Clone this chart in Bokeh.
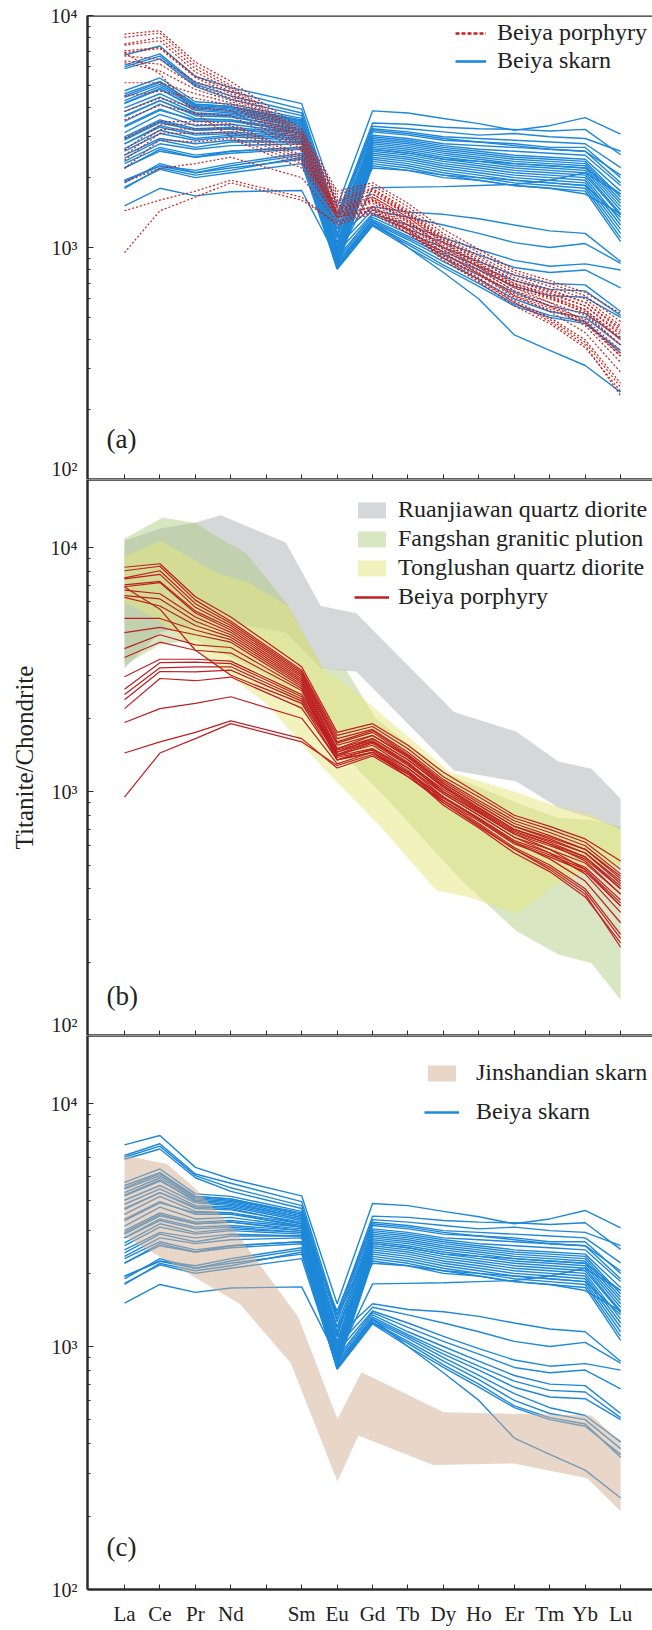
import numpy as np
from bokeh.plotting import figure
from bokeh.models import (FixedTicker, CustomJSTickFormatter, Span, Label, Legend,
                          LegendItem, Range1d)
from bokeh.layouts import column
from bokeh.embed import file_html
from bokeh.resources import INLINE

# ---------------- data ----------------
ELEMENTS = ["La", "Ce", "Pr", "Nd", "", "Sm", "Eu", "Gd", "Tb", "Dy", "Ho", "Er", "Tm", "Yb", "Lu"]
REE_X = [0, 1, 2, 3, 5, 6, 7, 8, 9, 10, 11, 12, 13, 14]   # Pm (4) not analysed

# Beiya skarn titanite (chondrite normalised) La..Lu without Pm
SKARN = [
    [6760, 7390, 5460, 4890, 4170, 1500, 3880, 3800, 3600, 3420, 3200, 3350, 3630, 3080],
    [6110, 6830, 5130, 4700, 3950, 1350, 3440, 3400, 3300, 3250, 3230, 3180, 3230, 2510],
    [6010, 6680, 5050, 4500, 3800, 1300, 3330, 3250, 3150, 3050, 3100, 3000, 2950, 2600],
    [5900, 6500, 4950, 4350, 3700, 1260, 3250, 3150, 3000, 2950, 2900, 2850, 2800, 2210],
    [4740, 5380, 4250, 4150, 3600, 1200, 3150, 3050, 2900, 2850, 2800, 2700, 2700, 2000],
    [4600, 5200, 4150, 4050, 3550, 1150, 3050, 2950, 2800, 2750, 2700, 2650, 2600, 2050],
    [4440, 5050, 4100, 4000, 3500, 1100, 3000, 2900, 2750, 2650, 2600, 2550, 2500, 1850],
    [4300, 4950, 4050, 3950, 3450, 1120, 2950, 2850, 2700, 2600, 2500, 2450, 2400, 1750],
    [4170, 4800, 4000, 3900, 3400, 1050, 2900, 2800, 2650, 2550, 2450, 2400, 2350, 1650],
    [4000, 4600, 3900, 3800, 3350, 1000, 2850, 2750, 2600, 2500, 2400, 2350, 2300, 1600],
    [3850, 4450, 3800, 3750, 3300, 1030, 2800, 2700, 2550, 2450, 2350, 2300, 2250, 1550],
    [3670, 4300, 3700, 3650, 3250, 980, 2750, 2650, 2500, 2400, 2300, 2250, 2200, 1500],
    [3500, 4150, 3600, 3550, 3200, 960, 2700, 2600, 2450, 2350, 2250, 2200, 2150, 1450],
    [3340, 3950, 3500, 3500, 3150, 940, 2650, 2550, 2400, 2300, 2200, 2150, 2100, 1400],
    [3130, 3750, 3350, 3400, 3100, 920, 2600, 2500, 2350, 2250, 2150, 2100, 2050, 1380],
    [2940, 3500, 3200, 3250, 3050, 900, 2550, 2450, 2300, 2200, 2100, 2050, 2000, 1300],
    [2800, 3350, 3100, 3150, 3000, 880, 2500, 2400, 2250, 2150, 2050, 2000, 1950, 1250],
    [2670, 3200, 2950, 3050, 2950, 870, 2450, 2350, 2200, 2100, 2000, 1950, 1900, 1200],
    [2430, 2900, 2700, 2850, 2850, 850, 2400, 2300, 2150, 2050, 1950, 1900, 1850, 1150],
    [2210, 2600, 2450, 2600, 2700, 840, 2350, 2250, 2100, 2000, 1900, 1850, 1800, 1100],
    [1940, 2240, 2100, 2250, 2500, 830, 2300, 2200, 2050, 1950, 1850, 1800, 1750, 1060],
    [1820, 2170, 2000, 2100, 2300, 820, 2250, 2150, 2000, 1950, 1850, 1800, 1700, 1400],
    [1510, 1800, 1670, 1740, 1760, 900, 1810, 1820, 1830, 1850, 1870, 1950, 2100, 1700],
    [3000, 3550, 3250, 3300, 3100, 1400, 3200, 3100, 2950, 2850, 2750, 2650, 2600, 1900],
    [4200, 4850, 3950, 3850, 3400, 1350, 2650, 2550, 2400, 2350, 2300, 2250, 2200, 1700],
    [2600, 3100, 2900, 3000, 2900, 1200, 2200, 2150, 2050, 2000, 1950, 1900, 1850, 1350],
    [4500, 5150, 4150, 4050, 3500, 1100, 1500, 1420, 1390, 1330, 1250, 1180, 1150, 870],
    [3700, 4300, 3750, 3700, 3200, 1000, 1450, 1350, 1250, 1150, 1050, 1000, 1040, 855],
    [3300, 3900, 3550, 3550, 3100, 950, 1400, 1250, 1100, 980, 880, 830, 850, 800],
    [2900, 3450, 3200, 3250, 3000, 900, 1380, 1200, 1050, 930, 820, 780, 800, 670],
    [2800, 3300, 3050, 3100, 2950, 880, 1350, 1150, 1000, 870, 760, 700, 690, 530],
    [2500, 2950, 2800, 2900, 2850, 860, 1320, 1120, 960, 830, 720, 660, 650, 510],
    [2350, 2800, 2650, 2750, 2800, 850, 1300, 1100, 930, 800, 680, 620, 610, 500],
    [2300, 2700, 2500, 2600, 2700, 830, 1280, 1080, 900, 760, 640, 560, 520, 405],
    [2200, 2650, 2450, 2550, 2650, 820, 1260, 1050, 870, 730, 600, 530, 500, 380],
    [1950, 2250, 2150, 2300, 2550, 810, 1250, 1030, 840, 700, 570, 510, 480, 350],
    [1800, 2200, 2050, 2150, 2450, 805, 1240, 1000, 820, 680, 560, 500, 470, 360],
    [1900, 2300, 2100, 2200, 2400, 830, 1300, 1000, 780, 600, 420, 360, 310, 238],
]

# Beiya porphyry titanite
PORPHYRY = [
    [8320, 8600, 6300, 5200, 3250, 1750, 1900, 1550, 1200, 980, 800, 720, 640, 520],
    [8050, 8400, 6100, 5000, 3150, 1700, 1850, 1500, 1150, 950, 780, 700, 620, 480],
    [7530, 8050, 5900, 4900, 3100, 1650, 1800, 1450, 1120, 920, 760, 680, 600, 460],
    [7450, 7780, 5700, 4800, 3050, 1600, 1780, 1420, 1100, 900, 740, 660, 580, 440],
    [7040, 7280, 5500, 4700, 3000, 1580, 1750, 1400, 1080, 880, 720, 640, 560, 420],
    [6920, 7200, 5400, 4600, 2950, 1550, 1700, 1380, 1060, 860, 700, 620, 540, 400],
    [6700, 6480, 5200, 4500, 2900, 1500, 1650, 1350, 1040, 840, 690, 610, 520, 380],
    [6370, 6170, 5000, 4400, 2850, 1480, 1620, 1320, 1000, 820, 670, 580, 480, 340],
    [6260, 5770, 4800, 4300, 2800, 1450, 1600, 1300, 980, 800, 650, 560, 460, 320],
    [5130, 5130, 4600, 4200, 2750, 1420, 1550, 1250, 950, 770, 620, 530, 430, 290],
    [4490, 4720, 4400, 4100, 2700, 1400, 1500, 1220, 920, 740, 590, 500, 400, 260],
    [6900, 5600, 3800, 3000, 2300, 1350, 1450, 1150, 900, 720, 580, 480, 380, 230],
    [3860, 4400, 4000, 3900, 2650, 1380, 1480, 1200, 900, 730, 580, 490, 390, 250],
    [3550, 4100, 3800, 3700, 2600, 1350, 1450, 1180, 880, 710, 560, 470, 370, 240],
    [2960, 3490, 3490, 3430, 2500, 1500, 1700, 1400, 1080, 880, 720, 650, 580, 450],
    [2630, 3380, 3400, 3350, 2450, 1450, 1650, 1350, 1050, 850, 700, 630, 560, 430],
    [2500, 3220, 3250, 3250, 2400, 1420, 1600, 1300, 1020, 830, 680, 610, 540, 410],
    [2380, 3110, 3100, 3150, 2350, 1400, 1580, 1280, 1000, 820, 670, 600, 530, 400],
    [2190, 2910, 2850, 2950, 2200, 1350, 1500, 1250, 980, 800, 650, 580, 510, 380],
    [1920, 2190, 2300, 2450, 2000, 1300, 1450, 1200, 950, 780, 630, 560, 490, 360],
    [1440, 1600, 1750, 1950, 1650, 1250, 1400, 1150, 920, 760, 610, 540, 470, 340],
    [950, 1440, 1650, 1900, 1600, 1280, 1420, 1180, 940, 770, 620, 550, 480, 350],
]

# reference fields (polygon outlines: upper edge then lower edge)
RUANJIAWAN_X = [0, 1.02, 2.0, 2.72, 4.55, 5.54, 6.54, 9.3, 11.06, 12.24, 13.18, 14,
                14, 13.18, 12.24, 11.06, 9.3, 6.54, 5.54, 4.55, 2.7, 1.0, 0]
RUANJIAWAN_Y = [10700, 12000, 12700, 13600, 10500, 5770, 5390, 2120, 1760, 1330, 1240, 935,
                700, 780, 860, 1100, 1220, 3110, 3200, 4500, 5000, 4500, 3200]
FANGSHAN_X = [0, 1.08, 2.02, 2.49, 3.43, 4.6, 5.6, 6.25, 7.07, 9.0, 11.06, 12.24, 13.18, 14,
              14, 13.18, 12.24, 11.06, 9.5, 7.5, 5.5, 4.0, 2.0, 1.0, 0]
FANGSHAN_Y = [10900, 13300, 12600, 11400, 9500, 5850, 3200, 3170, 2010, 1200, 900, 780, 765, 716,
              140, 198, 215, 268, 434, 900, 1800, 3000, 4200, 4000, 3300]
TONGLUSHAN_X = [0, 1.02, 2.6, 3.5, 4.6, 5.6, 6.6, 9.2, 11.0, 12.2, 13.2, 14,
                14, 13.2, 12.2, 11.1, 9.7, 8.8, 7.3, 5.5, 4.0, 2.0, 1.0, 0]
TONGLUSHAN_Y = [9200, 10700, 7900, 7200, 5800, 3200, 2500, 1200, 1000, 870, 800, 700,
                500, 480, 420, 316, 370, 393, 700, 1300, 2300, 3800, 5000, 6000]
JINSHANDIAN_X = [0, 1.2, 2.02, 3.08, 4.9, 6.01, 6.69, 9.01, 13.18, 14,
                 14, 13.06, 10.98, 8.71, 6.6, 6.01, 4.69, 3.25, 0]
JINSHANDIAN_Y = [6110, 5640, 4440, 3040, 1325, 503, 784, 536, 520, 405,
                 210, 287, 330, 325, 430, 278, 855, 1500, 2850]

# ---------------- styling ----------------
FONT = "Liberation Serif"
TXT = "#222222"
AX = "#2b2b2b"
BLUE = "#1E88D8"
RED = "#BE1E22"
X0, X1 = -1.044, 14.9
YTOP_A = 10000
YTOP_BC = 19055
W = 652
NO_DATA = np.array([np.nan])   # legend-key renderers draw nothing in the plot

fmt = CustomJSTickFormatter(code="""
const e = Math.round(Math.log10(tick));
const sup = {2: '\u00b2', 3: '\u00b3', 4: '\u2074'};
return '10' + (sup[e] || '');
""")


def make_fig(height, ytop, top_border, bottom_border, show_x_labels):
    p = figure(width=W, height=height, x_range=Range1d(X0, X1),
               y_range=Range1d(100, ytop), y_axis_type="log",
               output_backend="svg", toolbar_location=None,
               min_border_left=87, min_border_right=0,
               min_border_top=top_border, min_border_bottom=bottom_border)
    p.grid.visible = False
    p.outline_line_color = None
    p.background_fill_color = "white"
    p.border_fill_color = "white"

    ya = p.yaxis[0]
    ya.ticker = FixedTicker(ticks=[100, 1000, 10000],
                            minor_ticks=[200, 300, 400, 500, 600, 700, 800, 900,
                                         2000, 3000, 4000, 5000, 6000, 7000, 8000, 9000])
    ya.formatter = fmt
    ya.axis_line_width = 2.5
    ya.axis_line_color = AX
    ya.major_tick_in = 6
    ya.major_tick_out = 0
    ya.minor_tick_in = 3
    ya.minor_tick_out = 0
    ya.major_tick_line_color = AX
    ya.minor_tick_line_color = AX
    ya.major_label_text_font = FONT
    ya.major_label_text_font_size = "20px"
    ya.major_label_text_color = TXT
    ya.major_label_standoff = 10

    xa = p.xaxis[0]
    xa.ticker = FixedTicker(ticks=list(range(15)))
    xa.axis_line_width = 2.5
    xa.axis_line_color = AX
    xa.major_tick_in = 5
    xa.major_tick_out = 0
    xa.minor_tick_line_color = None
    xa.major_tick_line_color = AX
    if show_x_labels:
        xa.major_label_overrides = {i: ELEMENTS[i] for i in range(15)}
        xa.major_label_text_font = FONT
        xa.major_label_text_font_size = "21px"
        xa.major_label_text_color = TXT
        xa.major_label_standoff = 12
    else:
        xa.major_label_overrides = {i: "" for i in range(15)}
        xa.major_label_text_font_size = "0px"
        xa.major_label_standoff = 0

    top = Span(location=ytop, dimension="width", line_color=AX, line_width=2.5)
    p.add_layout(top)
    return p


def style_legend(leg, loc, gw, gh, standoff, spacing):
    leg.location = loc
    leg.label_text_font = FONT
    leg.label_text_font_size = "24px"
    leg.label_text_color = TXT
    leg.glyph_width = gw
    leg.glyph_height = gh
    leg.label_height = gh
    leg.label_standoff = standoff
    leg.spacing = spacing
    leg.padding = 0
    leg.margin = 0
    leg.border_line_color = None
    leg.background_fill_alpha = 0


xs_sk = [REE_X] * len(SKARN)
xs_po = [REE_X] * len(PORPHYRY)

# ---------- panel (a) ----------
pa = make_fig(479, YTOP_A, 15, 0, False)
pa.multi_line(xs_sk, SKARN, line_color=BLUE, line_width=1.4)
pa.multi_line(xs_po, PORPHYRY, line_color="#C8201E", line_width=1.2, line_dash="2 2")
key_po_a = pa.line(x=NO_DATA, y=NO_DATA, line_color="#C8201E", line_width=2.6, line_dash="4 2")
key_sk_a = pa.line(x=NO_DATA, y=NO_DATA, line_color=BLUE, line_width=2.6)
leg_a = Legend(items=[LegendItem(label="Beiya porphyry", renderers=[key_po_a]),
                      LegendItem(label="Beiya skarn", renderers=[key_sk_a])])
style_legend(leg_a, (368, 405), 31, 20, 11, 1)
pa.add_layout(leg_a)
pa.add_layout(Label(x=-0.51, y=150, text="(a)", text_font=FONT, text_font_size="27px",
                    text_color=TXT, text_baseline="middle"))

# ---------- panel (b) ----------
pb = make_fig(556, YTOP_BC, 0, 0, False)
r_ru = pb.patch(RUANJIAWAN_X, RUANJIAWAN_Y, fill_color="#d4d5d7", fill_alpha=0.95, line_color=None)
r_fa = pb.patch(FANGSHAN_X, FANGSHAN_Y, fill_color="#a9c77c", fill_alpha=0.45, line_color=None)
r_to = pb.patch(TONGLUSHAN_X, TONGLUSHAN_Y, fill_color="#e6e67a", fill_alpha=0.5, line_color=None)
pb.multi_line(xs_po, PORPHYRY, line_color=RED, line_width=1.2)
key_po_b = pb.line(x=NO_DATA, y=NO_DATA, line_color=RED, line_width=2.6)
leg_b = Legend(items=[LegendItem(label="Ruanjiawan quartz diorite", renderers=[r_ru]),
                      LegendItem(label="Fangshan granitic plution", renderers=[r_fa]),
                      LegendItem(label="Tonglushan quartz diorite", renderers=[r_to]),
                      LegendItem(label="Beiya porphyry", renderers=[key_po_b])])
style_legend(leg_b, (267, 425), 35, 20, 9, 2)
pb.add_layout(leg_b)
pb.yaxis[0].axis_label = "Titanite/Chondrite"
pb.yaxis[0].axis_label_text_font = FONT
pb.yaxis[0].axis_label_text_font_size = "25px"
pb.yaxis[0].axis_label_text_font_style = "normal"
pb.yaxis[0].axis_label_text_color = TXT
pb.yaxis[0].axis_label_standoff = 10
pb.add_layout(Label(x=-0.51, y=145, text="(b)", text_font=FONT, text_font_size="27px",
                    text_color=TXT, text_baseline="middle"))

# ---------- panel (c) ----------
pc = make_fig(595, YTOP_BC, 0, 41, True)
pc.multi_line(xs_sk, SKARN, line_color=BLUE, line_width=1.4)
r_ji = pc.patch(JINSHANDIAN_X, JINSHANDIAN_Y, fill_color="#d1ad91", fill_alpha=0.5, line_color=None)
key_sk_c = pc.line(x=NO_DATA, y=NO_DATA, line_color=BLUE, line_width=2.6)
leg_c = Legend(items=[LegendItem(label="Jinshandian skarn", renderers=[r_ji]),
                      LegendItem(label="Beiya skarn", renderers=[key_sk_c])])
style_legend(leg_c, (337, 464), 35, 20, 17, 12)
pc.add_layout(leg_c)
pc.add_layout(Label(x=-0.51, y=149, text="(c)", text_font=FONT, text_font_size="27px",
                    text_color=TXT, text_baseline="middle"))

layout = column(pa, pb, pc, spacing=0)
open("out.html", "w").write(file_html(layout, INLINE))
